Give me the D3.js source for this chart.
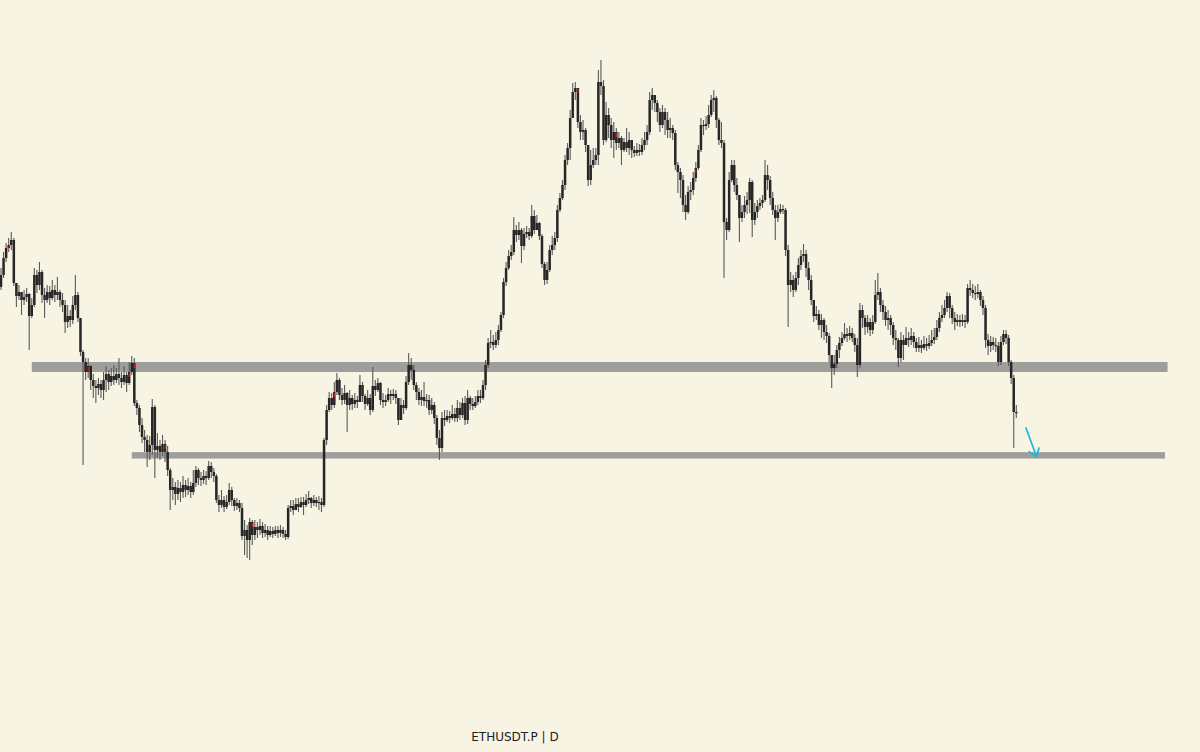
<!DOCTYPE html>
<html><head><meta charset="utf-8">
<script src="https://cdn.jsdelivr.net/npm/d3@7"></script>
<style>html,body{margin:0;padding:0;background:#f7f4e4;} svg{display:block}</style>
</head><body>
<svg id="chart" width="1200" height="752"></svg>
<script>
// ---- data (ETHUSDT.P perpetual, daily) ----
const startDate = "2025-01-02";
const endDate = "2026-02-02";
const firstOpen = 3391;
const closes = [
3475,3594,3664,3685,3720,3419,3328,3356,3300,3321,
3342,3188,3265,3475,3405,3496,3335,3300,3356,3314,
3370,3335,3356,3300,3265,3146,3188,3160,3265,3335,
3174,2936,2866,2796,2838,2740,2698,2684,2712,2670,
2740,2782,2726,2768,2740,2782,2754,2726,2775,2719,
2796,2859,2579,2544,2425,2341,2320,2236,2285,2551,
2250,2278,2236,2292,2236,2110,1970,1991,1942,1984,
1956,2005,1970,1998,1956,2019,2110,2054,2040,2068,
2054,2138,2096,2068,1900,1865,1900,1851,1886,1970,
1900,1858,1879,1844,1648,1690,1620,1746,1655,1711,
1690,1718,1669,1690,1655,1683,1662,1690,1669,1690,
1662,1641,1844,1858,1830,1872,1851,1886,1865,1900,
1914,1879,1900,1879,1886,1865,2320,2530,2614,2565,
2656,2740,2635,2600,2649,2565,2614,2572,2600,2586,
2705,2628,2572,2614,2530,2698,2670,2719,2600,2586,
2600,2642,2628,2642,2614,2460,2565,2544,2726,2845,
2810,2705,2656,2600,2621,2593,2600,2530,2565,2474,
2334,2264,2474,2460,2488,2474,2502,2474,2544,2495,
2579,2460,2614,2572,2558,2586,2628,2614,2705,2845,
2999,3006,2985,3020,3090,3195,3426,3524,3608,3636,
3790,3755,3790,3678,3762,3776,3748,3888,3790,3839,
3748,3552,3440,3510,3650,3685,3734,3930,4014,4105,
4280,4364,4574,4756,4784,4546,4476,4490,4385,4140,
4245,4280,4315,4826,4798,4420,4595,4525,4420,4476,
4399,4434,4350,4406,4364,4420,4350,4329,4350,4336,
4385,4420,4476,4700,4735,4679,4616,4525,4616,4560,
4490,4504,4469,4245,4196,4140,3965,3916,4056,4070,
4154,4224,4350,4525,4518,4532,4595,4700,4714,4560,
4420,4399,3846,3790,4140,4245,4105,4035,3874,3916,
3965,4000,4126,3860,3916,3958,3979,4000,4175,4140,
4014,3930,3874,3916,3937,3930,3650,3405,3440,3370,
3454,3545,3608,3622,3524,3440,3300,3188,3202,3125,
3160,3076,3048,2915,2824,2852,2950,2999,3034,3062,
3048,3069,3034,2985,2845,3230,3174,3111,3146,3090,
3146,3335,3356,3265,3216,3160,3174,3125,3034,3020,
2894,3020,2985,3034,3020,3048,3006,2964,2985,2964,
2992,2978,2999,3020,3041,3104,3174,3195,3244,3328,
3244,3174,3146,3160,3146,3160,3146,3384,3370,3349,
3342,3356,3300,3244,3020,2978,3006,2985,2978,2866,
3006,3062,3034,2866,2754,2516,2509];
const highs = [
3524,3636,3699,3734,3776,3734,3419,3405,3356,3370,
3384,3349,3314,3524,3510,3566,3510,3384,3405,3398,
3440,3405,3461,3370,3349,3300,3265,3230,3328,3475,
3356,3174,2950,2894,2894,2845,2782,2740,2754,2740,
2796,2838,2810,2824,2845,2824,2894,2796,2838,2796,
2866,2908,2894,2600,2565,2474,2390,2355,2348,2607,
2565,2369,2320,2355,2320,2278,2124,2054,2026,2040,
2026,2068,2040,2054,2026,2110,2138,2124,2096,2110,
2103,2173,2166,2124,2082,1935,1970,1928,1935,2019,
1991,1914,1914,1900,1879,1760,1725,1774,1760,1760,
1746,1767,1746,1732,1718,1718,1711,1718,1718,1725,
1711,1690,1865,1900,1900,1914,1914,1921,1921,1942,
1963,1921,1935,1921,1928,1914,2334,2565,2656,2649,
2726,2789,2754,2684,2705,2656,2670,2635,2649,2628,
2775,2726,2642,2670,2642,2831,2740,2754,2726,2649,
2635,2684,2670,2677,2670,2614,2614,2600,2768,2929,
2894,2845,2726,2684,2670,2726,2642,2635,2614,2586,
2495,2390,2516,2530,2530,2523,2565,2544,2600,2586,
2614,2628,2670,2628,2614,2628,2670,2670,2740,2880,
3034,3090,3055,3076,3125,3216,3454,3566,3650,3685,
3881,3825,3846,3804,3804,3818,3804,3965,3930,3895,
3846,3762,3566,3566,3685,3748,3776,3965,4049,4140,
4315,4399,4630,4819,4826,4784,4595,4560,4504,4385,
4350,4364,4364,4910,4980,4840,4686,4644,4574,4546,
4504,4476,4448,4434,4504,4476,4420,4378,4399,4392,
4434,4476,4525,4756,4784,4735,4700,4644,4665,4644,
4616,4574,4525,4490,4266,4224,4175,4035,4098,4126,
4196,4266,4385,4574,4560,4588,4665,4735,4770,4728,
4574,4546,4420,3874,4196,4280,4280,4154,4035,3965,
4028,4056,4154,4140,3979,4000,4014,4035,4280,4245,
4168,4056,3965,3965,3972,3965,3944,3685,3496,3475,
3496,3594,3650,3692,3650,3566,3475,3286,3258,3230,
3202,3174,3125,3069,2915,2915,2985,3041,3076,3139,
3104,3118,3104,3062,3034,3279,3265,3195,3195,3174,
3195,3440,3489,3384,3300,3258,3230,3195,3146,3090,
3034,3076,3055,3111,3076,3104,3076,3034,3041,3020,
3048,3034,3055,3090,3104,3160,3216,3265,3300,3356,
3349,3265,3216,3202,3195,3202,3195,3412,3440,3412,
3398,3412,3370,3328,3265,3062,3048,3041,3034,3006,
3048,3090,3090,3055,2880,2775,2565];
const lows = [
3370,3454,3566,3636,3650,3398,3251,3300,3195,3265,
3286,2950,3174,3251,3349,3370,3279,3174,3279,3265,
3300,3286,3300,3251,3216,3069,3104,3111,3132,3230,
3146,2908,2145,2740,2754,2670,2614,2579,2635,2614,
2600,2656,2670,2698,2705,2719,2705,2684,2705,2656,
2705,2775,2558,2495,2376,2299,2236,2131,2180,2215,
2054,2194,2180,2208,2166,2068,1830,1900,1865,1900,
1886,1914,1921,1935,1914,1935,1991,2005,1998,2012,
2005,2040,2054,2026,1879,1816,1844,1816,1837,1865,
1858,1823,1830,1816,1620,1515,1494,1480,1585,1620,
1634,1655,1634,1641,1620,1641,1634,1648,1634,1641,
1634,1620,1627,1816,1795,1830,1816,1844,1795,1851,
1872,1844,1858,1851,1830,1816,1851,2285,2516,2530,
2544,2635,2600,2565,2572,2376,2530,2530,2544,2544,
2586,2586,2530,2558,2495,2516,2628,2656,2565,2544,
2558,2586,2572,2600,2572,2425,2488,2502,2530,2705,
2740,2670,2600,2565,2558,2558,2544,2495,2502,2432,
2285,2180,2236,2418,2446,2439,2460,2446,2446,2460,
2474,2425,2432,2530,2530,2544,2565,2579,2600,2670,
2824,2964,2950,2964,2985,3076,3174,3398,3510,3580,
3615,3706,3720,3559,3650,3734,3720,3734,3762,3804,
3720,3524,3405,3412,3496,3615,3650,3706,3916,4000,
4070,4245,4280,4574,4700,4504,4420,4420,4336,4098,
4105,4224,4245,4245,4735,4385,4406,4434,4364,4294,
4350,4364,4245,4336,4336,4315,4294,4301,4308,4308,
4315,4350,4385,4455,4630,4616,4546,4476,4504,4455,
4434,4434,4420,4210,4049,4014,3916,3860,3902,4000,
4035,4126,4210,4336,4455,4490,4504,4581,4616,4504,
4385,4364,3454,3720,3776,4126,4056,4000,3706,3846,
3874,3902,3909,3741,3825,3874,3930,3944,3986,4070,
3965,3895,3720,3846,3902,3902,3608,3111,3356,3321,
3356,3405,3510,3566,3461,3370,3265,3146,3160,3090,
3034,3020,2999,2866,2684,2775,2824,2894,2978,3020,
3006,3020,3006,2936,2761,2824,3104,3055,3069,3048,
3062,3132,3300,3216,3160,3118,3090,3055,2985,2950,
2831,2866,2880,2985,2971,2985,2964,2936,2936,2929,
2950,2943,2957,2978,2992,3020,3076,3146,3174,3216,
3174,3132,3090,3118,3111,3118,3104,3132,3328,3314,
3300,3314,3258,3195,2964,2915,2936,2950,2936,2838,
2845,2985,2992,2838,2712,2264,2474];
// candles whose body carries the small red marker
const redCandles = [3,34,50,52,64,98,130,225,227,240,271];
// horizontal support/resistance zones
const zoneStart = ["2025-01-14","2025-02-22"];
const zoneEnd   = ["2026-04-02","2026-04-01"];
const zoneTop   = [2866, 2235];
const zoneBottom= [2796, 2190];
// projection arrow
const arrowFrom = ["2026-02-05T18:30:00Z", 2404];
const arrowTo   = ["2026-02-09T22:00:00Z", 2203];
const title = "ETHUSDT.P | D";

// ---- build ----
const parse = d3.utcParse("%Y-%m-%d");
const t0 = parse(startDate);
const candles = closes.map((c,i)=>({
  date: d3.utcDay.offset(t0, i),
  open: i===0 ? firstOpen : closes[i-1],
  high: highs[i], low: lows[i], close: c, idx:i
}));

const svg = d3.select("#chart");
const W = 1200, H = 752;
svg.append("rect").attr("width",W).attr("height",H).attr("fill","#f7f4e4");

const x = d3.scaleUtc().domain([t0, parse(endDate)]).range([1, 1016.3]);
const y = d3.scaleLinear().domain([5400, 1200]).range([0, 600]);

// zones
const zones = zoneStart.map((s,i)=>({s:parse(s), e:parse(zoneEnd[i]), top:zoneTop[i], bot:zoneBottom[i]}));
svg.append("g").selectAll("rect").data(zones).join("rect")
  .attr("x", d=>x(d.s)).attr("width", d=>x(d.e)-x(d.s))
  .attr("y", d=>y(d.top)).attr("height", d=>y(d.bot)-y(d.top))
  .attr("fill","#9e9e9c");

// candles
const g = svg.append("g");
g.selectAll("line.wick").data(candles).join("line").attr("class","wick")
  .attr("x1", d=>x(d.date)).attr("x2", d=>x(d.date))
  .attr("y1", d=>y(Math.max(d.high, d.open, d.close)))
  .attr("y2", d=>y(Math.min(d.low, d.open, d.close)))
  .attr("stroke","#5a5a58").attr("stroke-width",1.1);
g.selectAll("rect.body").data(candles).join("rect").attr("class","body")
  .attr("x", d=>x(d.date)-1.25).attr("width", 2.5)
  .attr("y", d=>y(Math.max(d.open,d.close)))
  .attr("height", d=>Math.max(1.2, y(Math.min(d.open,d.close))-y(Math.max(d.open,d.close))))
  .attr("fill","#262626");
g.selectAll("rect.red").data(candles.filter(d=>redCandles.includes(d.idx))).join("rect").attr("class","red")
  .attr("x", d=>x(d.date)-0.6).attr("width",1.2)
  .attr("y", d=>y(Math.max(d.open,d.close)) + 1)
  .attr("height", d=>Math.min(4, Math.max(1.5, y(Math.min(d.open,d.close))-y(Math.max(d.open,d.close))-2)))
  .attr("fill","#e3131b");

// arrow
const iso = d3.isoParse;
const ax1 = x(iso(arrowFrom[0])), ay1 = y(arrowFrom[1]);
const ax2 = x(iso(arrowTo[0])), ay2 = y(arrowTo[1]);
const ang = Math.atan2(ay2-ay1, ax2-ax1);
const headLen = 9, spread = 0.62;
const arrowPath = d3.path();
arrowPath.moveTo(ax1, ay1); arrowPath.lineTo(ax2, ay2);
arrowPath.moveTo(ax2 - headLen*Math.cos(ang-spread), ay2 - headLen*Math.sin(ang-spread));
arrowPath.lineTo(ax2, ay2);
arrowPath.lineTo(ax2 - headLen*Math.cos(ang+spread), ay2 - headLen*Math.sin(ang+spread));
svg.append("path").attr("d", arrowPath.toString()).attr("fill","none")
  .attr("stroke","#1cb8da").attr("stroke-width",1.7).attr("stroke-linecap","round").attr("stroke-linejoin","round");

// title
svg.append("text").attr("x",515).attr("y",741).attr("text-anchor","middle")
  .attr("font-family","DejaVu Sans, sans-serif").attr("font-size",12).attr("fill","#1f1f1f")
  .style("white-space","pre")
  .text(title);
</script>
</body></html>
